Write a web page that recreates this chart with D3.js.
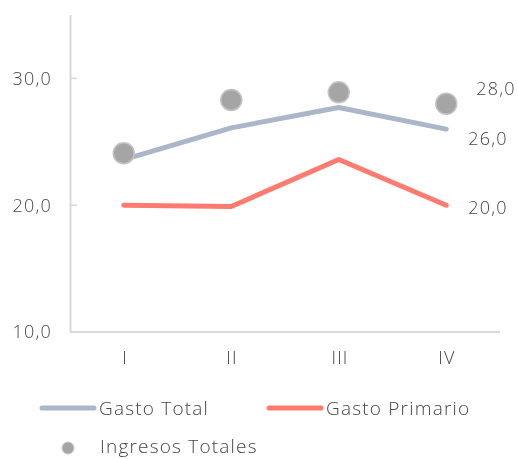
<!DOCTYPE html>
<html>
<head>
<meta charset="utf-8">
<script src="https://cdn.jsdelivr.net/npm/d3@7"></script>
<style>
  body { margin: 0; background: #fff; }
  svg { will-change: transform; }
  text { font-family: 'Open Sans', 'Noto Sans', sans-serif; font-weight: 300; fill: #454545; letter-spacing: 1.2px; }
</style>
</head>
<body>
<svg width="518" height="459"></svg>
<script>
// data
var quarters = ['I', 'II', 'III', 'IV'];
var gastoTotal = [23.6, 26.1, 27.7, 26.0];
var gastoPrimario = [20.0, 19.9, 23.6, 20.0];
var ingresosTotales = [24.1, 28.3, 28.9, 28.0];
var yTicks = [10, 20, 30];

var svg = d3.select('svg');
var fmt = d3.formatLocale({decimal: ',', thousands: '.', grouping: [3], currency: ['', '']}).format('.1f');

var x = d3.scalePoint().domain(quarters).range([70, 500]).padding(0.5);
var y = d3.scaleLinear().domain([10, 35]).range([332, 15]);

// axes
svg.append('line')
  .attr('x1', 70.5).attr('x2', 70.5).attr('y1', y(35)).attr('y2', y(10))
  .attr('stroke', '#d9d9d9').attr('stroke-width', 2);
svg.append('line')
  .attr('x1', 70).attr('x2', 500).attr('y1', y(10)).attr('y2', y(10))
  .attr('stroke', '#d9d9d9').attr('stroke-width', 2);

svg.selectAll('.tick').data(yTicks).enter()
  .append('line')
    .attr('x1', 71).attr('x2', 77)
    .attr('y1', function(d){ return y(d); })
    .attr('y2', function(d){ return y(d); })
    .attr('stroke', '#d9d9d9').attr('stroke-width', 1.5);

svg.selectAll('.ylab').data(yTicks).enter()
  .append('text')
    .attr('x', 52)
    .attr('y', function(d){ return y(d); })
    .attr('dy', '0.35em')
    .attr('text-anchor', 'end')
    .style('font-size', '18px')
    .text(function(d){ return fmt(d); });

svg.selectAll('.xlab').data(quarters).enter()
  .append('text')
    .attr('x', function(d){ return Math.round(x(d)) + 1; })
    .attr('y', 358)
    .attr('dy', '0.35em')
    .attr('text-anchor', 'middle')
    .style('font-size', '18px')
    .text(function(d){ return d; });

// lines
var line = d3.line()
  .x(function(d, i){ return x(quarters[i]); })
  .y(function(d){ return y(d); });

svg.append('path').datum(gastoTotal)
  .attr('d', line)
  .attr('fill', 'none').attr('stroke', '#aab6c9').attr('stroke-width', 5)
  .attr('stroke-linecap', 'round').attr('stroke-linejoin', 'round');

svg.append('path').datum(gastoPrimario)
  .attr('d', line)
  .attr('fill', 'none').attr('stroke', '#ff7b6f').attr('stroke-width', 5)
  .attr('stroke-linecap', 'round').attr('stroke-linejoin', 'round');

svg.selectAll('.dot').data(ingresosTotales).enter()
  .append('circle')
    .attr('cx', function(d, i){ return x(quarters[i]); })
    .attr('cy', function(d){ return y(d); })
    .attr('r', 10.5)
    .attr('fill', '#a5a5a5')
    .attr('stroke', '#c4c4c4').attr('stroke-width', 1.5);

// value labels on the last quarter
var last = quarters.length - 1;
var endLabels = [
  {v: ingresosTotales[last], dx: 30, dy: -15},
  {v: gastoTotal[last], dx: 22, dy: 10},
  {v: gastoPrimario[last], dx: 22, dy: 2}
];
svg.selectAll('.endlab').data(endLabels).enter()
  .append('text')
    .attr('x', function(d){ return x(quarters[last]) + d.dx; })
    .attr('y', function(d){ return y(d.v) + d.dy; })
    .attr('dy', '0.35em')
    .style('font-size', '18px')
    .text(function(d){ return fmt(d.v); });

// legend
var leg = svg.append('g');
leg.append('line').attr('x1', 42).attr('x2', 94).attr('y1', 408).attr('y2', 408)
  .attr('stroke', '#aab6c9').attr('stroke-width', 5).attr('stroke-linecap', 'round');
leg.append('text').attr('x', 99).attr('y', 408).attr('dy', '0.35em')
  .style('font-size', '19px').text('Gasto Total');
leg.append('line').attr('x1', 269).attr('x2', 321).attr('y1', 408).attr('y2', 408)
  .attr('stroke', '#ff7b6f').attr('stroke-width', 5).attr('stroke-linecap', 'round');
leg.append('text').attr('x', 326).attr('y', 408).attr('dy', '0.35em')
  .style('font-size', '19px').text('Gasto Primario');
leg.append('circle').attr('cx', 68).attr('cy', 448).attr('r', 6)
  .attr('fill', '#a5a5a5').attr('stroke', '#c4c4c4').attr('stroke-width', 1);
leg.append('text').attr('x', 100).attr('y', 446).attr('dy', '0.35em')
  .style('font-size', '19px').text('Ingresos Totales');
</script>
</body>
</html>
